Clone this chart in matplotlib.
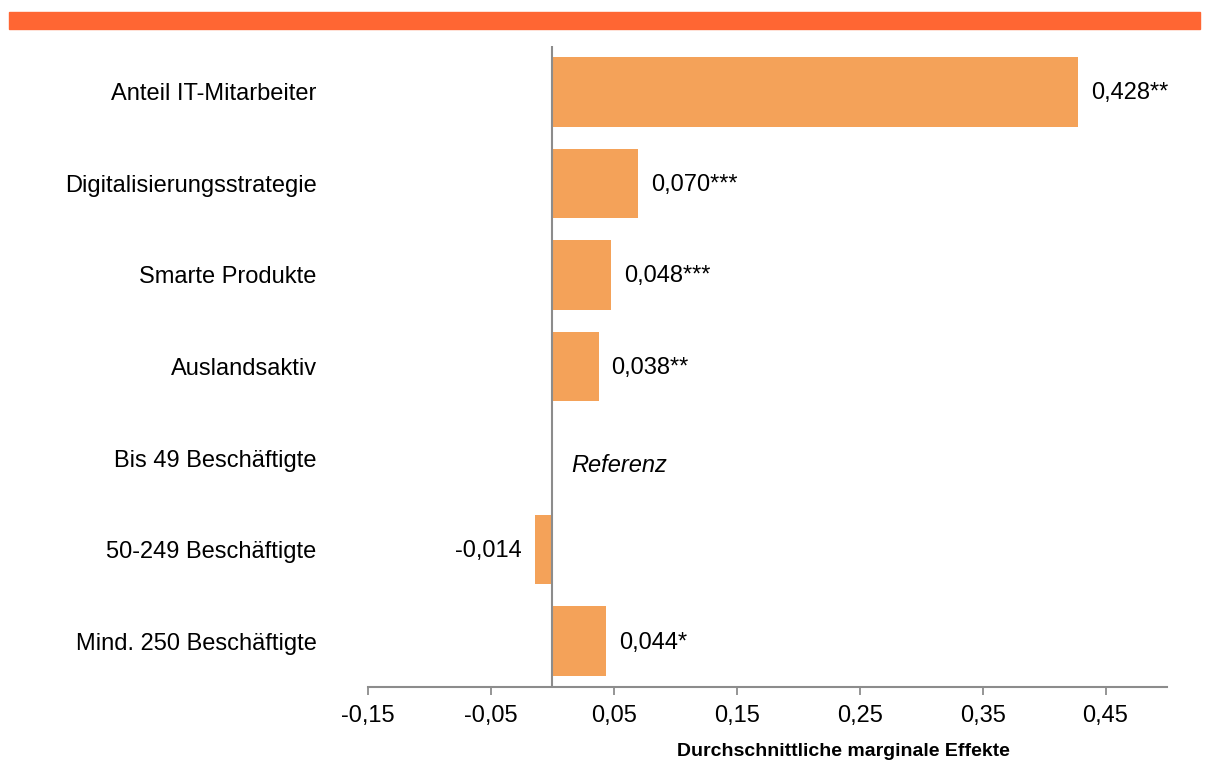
import matplotlib
matplotlib.use("Agg")
import matplotlib.pyplot as plt
from matplotlib.patches import Rectangle

categories = ["Anteil IT-Mitarbeiter", "Digitalisierungsstrategie", "Smarte Produkte",
              "Auslandsaktiv", "Bis 49 Beschäftigte", "50-249 Beschäftigte",
              "Mind. 250 Beschäftigte"]
values = [0.428, 0.070, 0.048, 0.038, 0.0, -0.014, 0.044]
value_labels = ["0,428**", "0,070***", "0,048***", "0,038**", "Referenz", "-0,014", "0,044*"]
xticks = [-0.15, -0.05, 0.05, 0.15, 0.25, 0.35, 0.45]
xtick_labels = ["-0,15", "-0,05", "0,05", "0,15", "0,25", "0,35", "0,45"]
xlabel = "Durchschnittliche marginale Effekte"

plt.rcParams['font.family'] = ['Liberation Sans', 'DejaVu Sans']

W, H = 1209, 762
fig = plt.figure(figsize=(W / 100, H / 100), dpi=100)

# top orange band
fig.patches.append(Rectangle((9 / W, 1 - 29 / H), (1200 - 9) / W, 17 / H,
                             transform=fig.transFigure, color="#FF6633", zorder=0))

ax = fig.add_axes([368 / W, 1 - 687 / H, (1167 - 368) / W, (687 - 46) / H])
bar_color = "#F4A259"
grey = "#8C8C8C"
fs = 17

ypos = list(range(len(categories)))
for i, (v, lab) in enumerate(zip(values, value_labels)):
    if lab == "Referenz":
        ax.text(0.0155, i + 0.08, lab, ha="left", va="center", fontsize=fs,
                style="italic", color="black")
        continue
    ax.barh(i, v, height=0.76, color=bar_color, zorder=2)
    if v >= 0:
        ax.annotate(lab, (v, i), xytext=(9, -1), textcoords="offset points",
                    ha="left", va="center", fontsize=fs)
    else:
        ax.annotate(lab, (v, i), xytext=(-10, -1), textcoords="offset points",
                    ha="right", va="center", fontsize=fs)

ax.axvline(0, color=grey, lw=1.5, zorder=3)
ax.set_xlim(-0.15, 0.5)
ax.set_ylim(6.5, -0.5)

ax.set_yticks(ypos)
ax.set_yticklabels(categories, fontsize=fs)
ax.tick_params(axis="y", length=0, pad=37)

ax.set_xticks(xticks)
ax.set_xticklabels(xtick_labels, fontsize=fs)
ax.tick_params(axis="x", length=5.5, width=1.3, color=grey, pad=7.5)

for s in ["top", "right", "left"]:
    ax.spines[s].set_visible(False)
ax.spines["bottom"].set_color(grey)
ax.spines["bottom"].set_linewidth(1.5)

fig.text(843 / W, 1 - 752 / H, xlabel, ha="center", va="center",
         fontsize=14, fontweight="bold")

fig.savefig("out.png", dpi=100)
